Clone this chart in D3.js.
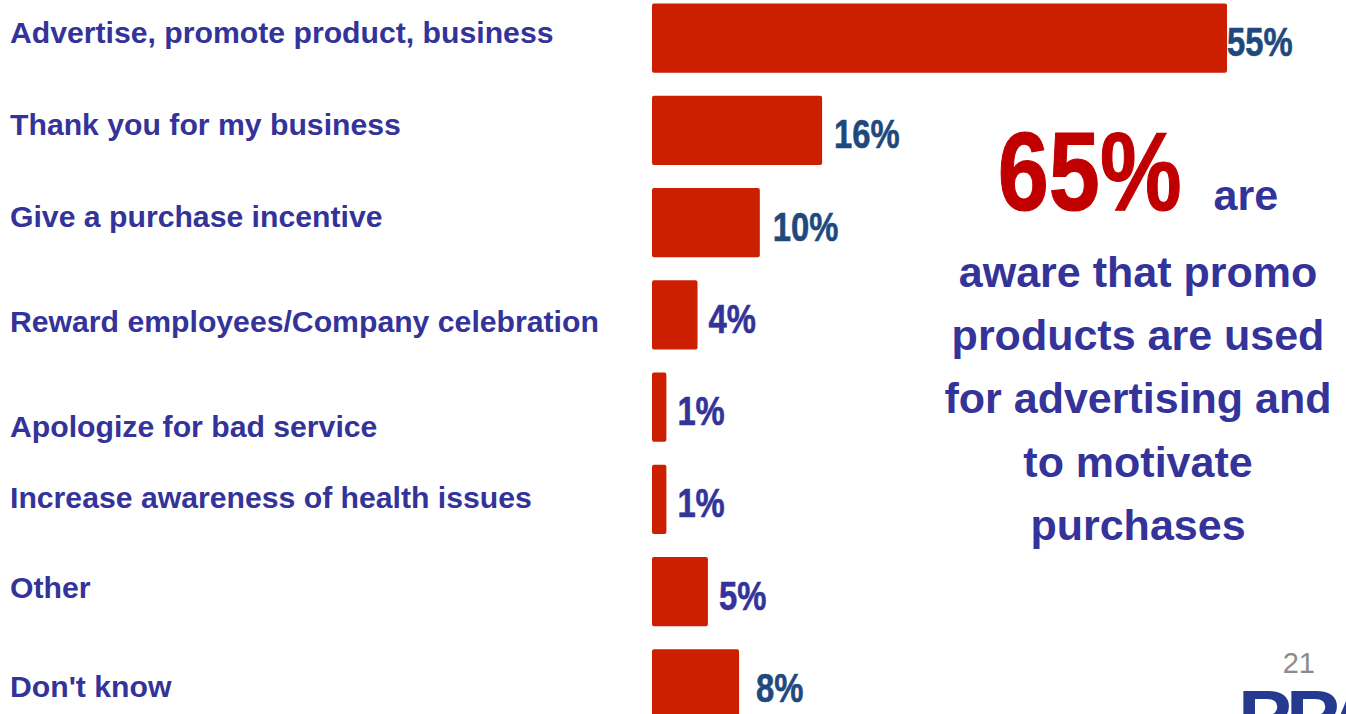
<!DOCTYPE html>
<html>
<head>
<meta charset="utf-8">
<script src="https://cdn.jsdelivr.net/npm/d3@7"></script>
<style>
  html, body { margin: 0; padding: 0; background: #ffffff; overflow: hidden; }
  svg { display: block; }
  text { font-family: "Liberation Sans", Arial, sans-serif; font-weight: bold; }
</style>
</head>
<body>
<svg id="chart" width="1346" height="714"></svg>
<script>
// Uses of promotional products, share of respondents (%)
const categories = [
  "Advertise, promote product, business",
  "Thank you for my business",
  "Give a purchase incentive",
  "Reward employees/Company celebration",
  "Apologize for bad service",
  "Increase awareness of health issues",
  "Other",
  "Don't know"
];
const values = [55, 16, 10, 4, 1, 1, 5, 8];
const valueLabels = ["55%", "16%", "10%", "4%", "1%", "1%", "5%", "8%"];

// Callout text
const calloutFigure = "65%";
const calloutHead = "are";
const calloutLines = [
  "aware that promo",
  "products are used",
  "for advertising and",
  "to motivate",
  "purchases"
];
const pageNumber = "21";
const logoText = "PPA";

// ---- layout ----
const W = 1346, H = 714;
const svg = d3.select("#chart");
svg.append("rect").attr("width", W).attr("height", H).attr("fill", "#ffffff");

const RED = "#CC1F00";
const NAVY = "#333399";
const BLUE = "#1F497D";
const BORDER = 4;

const x = d3.scaleLinear().domain([0, 55]).range([654, 1225]);
const y = d3.scaleBand().domain(categories).range([5.5, 716.6]).paddingInner(0.293).paddingOuter(0);

// per-row baseline offsets of the category labels (from band centre)
const catNudge = [5, 4.5, 4, 17, 30, 8.5, 6.5, 13];
// per-row gap between bar end and value label
const valGap = [0, 12, 13, 11, 11, 11, 11, 17];
// value label colours by row
const valColour = [BLUE, BLUE, BLUE, NAVY, NAVY, NAVY, NAVY, BLUE];

const rows = categories.map((c, i) => ({ c, v: values[i], lab: valueLabels[i], i }));

// bars
svg.append("g").selectAll("rect").data(rows).join("rect")
  .attr("x", d => x(0))
  .attr("y", d => y(d.c))
  .attr("width", d => x(d.v) - x(0))
  .attr("height", y.bandwidth())
  .attr("fill", RED)
  .attr("stroke", RED)
  .attr("stroke-width", BORDER)
  .attr("stroke-linejoin", "round");

// category labels
svg.append("g").selectAll("text").data(rows).join("text")
  .attr("x", 10)
  .attr("y", d => y(d.c) + y.bandwidth() / 2 + catNudge[d.i])
  .attr("font-size", 30.2)
  .attr("fill", NAVY)
  .text(d => d.c);

// value labels (condensed numerals)
svg.append("g").selectAll("text").data(rows).join("text")
  .attr("transform", d => `translate(${x(d.v) + BORDER / 2 + valGap[d.i]},${y(d.c) + y.bandwidth() / 2 + 18}) scale(0.82,1)`)
  .attr("font-size", 40)
  .attr("fill", d => valColour[d.i])
  .attr("stroke", d => valColour[d.i])
  .attr("stroke-width", 0.6)
  .text(d => d.lab);

// callout
const cx = 1138;
const callout = svg.append("g");
const fig = callout.append("text")
  .attr("font-size", 112)
  .attr("fill", "#C00000")
  .attr("stroke", "#C00000")
  .attr("stroke-width", 1.2)
  .text(calloutFigure);
const figW = fig.node().getComputedTextLength() * 0.82;
const head = callout.append("text")
  .attr("font-size", 43)
  .attr("fill", NAVY)
  .text(calloutHead);
const headW = head.node().getComputedTextLength();
const gap = 32;
const startX = cx - (figW + gap + headW) / 2;
fig.attr("transform", `translate(${startX},210) scale(0.82,1)`);
head.attr("x", startX + figW + gap).attr("y", 210);

callout.selectAll("text.line").data(calloutLines).join("text")
  .attr("class", "line")
  .attr("x", cx)
  .attr("y", (d, i) => 287 + i * 63.2)
  .attr("text-anchor", "middle")
  .attr("font-size", 43)
  .attr("fill", NAVY)
  .text(d => d);

// page number
svg.append("text")
  .attr("x", 1315).attr("y", 673)
  .attr("text-anchor", "end")
  .attr("font-size", 29)
  .style("font-weight", "normal")
  .attr("fill", "#8C8C8C")
  .text(pageNumber);

// logo (runs off the bottom edge)
svg.append("text")
  .attr("transform", "translate(1238,740) scale(1.15,1)")
  .attr("font-size", 70)
  .attr("font-weight", "900")
  .attr("letter-spacing", -5)
  .attr("fill", "#253A8E")
  .text(logoText);
</script>
</body>
</html>
